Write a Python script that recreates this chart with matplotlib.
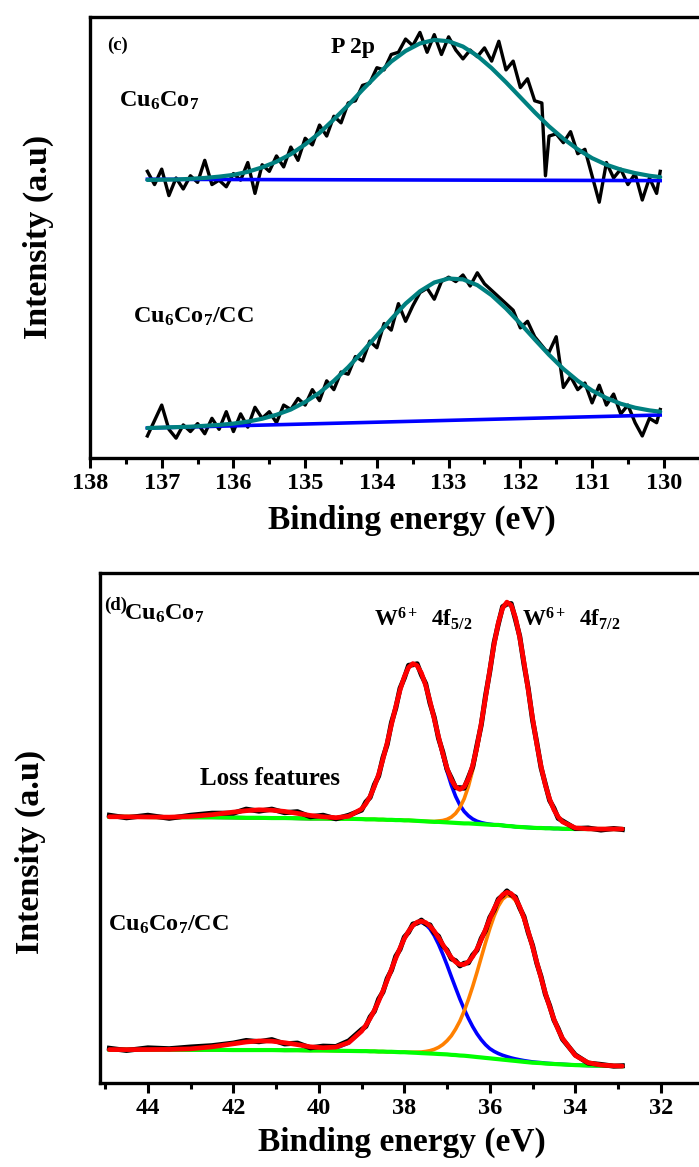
import matplotlib
matplotlib.use("Agg")
import matplotlib.pyplot as plt
from matplotlib.ticker import MultipleLocator
import numpy as np

plt.rcParams['font.family'] = ['Liberation Serif', 'DejaVu Serif']
plt.rcParams['font.weight'] = 'bold'
plt.rcParams['mathtext.fontset'] = 'custom'
plt.rcParams['mathtext.rm'] = 'Liberation Serif:bold'
plt.rcParams['mathtext.it'] = 'Liberation Serif:bold'
plt.rcParams['mathtext.bf'] = 'Liberation Serif:bold'

# ---------------- Panel (c): P 2p ----------------
be_p_data = [137.2, 137.1, 137.0, 136.9, 136.8, 136.7, 136.6, 136.5, 136.4, 136.3,
             136.2, 136.1, 136.0, 135.9, 135.8, 135.7, 135.6, 135.5, 135.4, 135.3,
             135.2, 135.1, 135.0, 134.9, 134.8, 134.7, 134.6, 134.5, 134.4, 134.3,
             134.2, 134.1, 134.0, 133.9, 133.8, 133.7, 133.6, 133.5, 133.4, 133.3,
             133.2, 133.1, 133.0, 132.9, 132.8, 132.7, 132.6, 132.5, 132.4, 132.3,
             132.2, 132.1, 132.0, 131.9, 131.8, 131.7, 131.65, 131.6, 131.5, 131.4,
             131.3, 131.2, 131.1, 131.0, 130.9, 130.8, 130.7, 130.6, 130.5, 130.4,
             130.3, 130.2, 130.1, 130.05]
p2p_cu6co7 = [65.0, 62.0, 65.5, 59.5, 63.5, 61.0, 64.0, 62.5, 67.5, 62.0,
              63.0, 61.5, 64.5, 63.0, 67.0, 60.0, 66.5, 65.0, 68.5, 66.0,
              70.5, 67.5, 72.5, 71.0, 75.5, 73.0, 77.5, 76.0, 80.5, 81.0,
              84.5, 85.0, 88.5, 88.0, 91.5, 92.0, 95.0, 93.5, 96.5, 92.0,
              96.0, 91.5, 95.5, 92.5, 90.5, 92.5, 91.0, 93.0, 90.0, 94.5,
              88.0, 90.0, 84.0, 86.0, 81.0, 80.5, 64.0, 73.0, 73.5, 71.5,
              74.0, 69.0, 70.0, 64.0, 58.0, 67.0, 63.5, 65.5, 62.0, 64.5,
              58.5, 63.5, 60.0, 65.0]
p2p_cu6co7_cc = [5.0, 8.5, 12.0, 6.5, 4.5, 7.5, 6.0, 7.8, 5.5, 9.0,
                 6.5, 10.5, 6.0, 10.0, 7.0, 11.5, 9.0, 10.5, 8.0, 12.0,
                 11.0, 13.5, 12.0, 15.5, 13.0, 17.5, 15.5, 19.5, 19.0, 23.0,
                 22.0, 26.5, 25.0, 30.5, 29.0, 35.0, 31.0, 34.5, 37.5, 38.5,
                 36.0, 40.0, 41.0, 40.0, 41.5, 39.0, 42.0, 39.5, 38.0, 36.5,
                 35.0, 33.5, 29.5, 31.0, 27.5, 25.5, 24.5, 24.0, 27.5, 16.0,
                 18.5, 15.5, 17.0, 12.5, 16.5, 12.0, 14.5, 10.0, 12.0, 8.0,
                 5.0, 9.0, 8.0, 11.0]

be_p_fit = [137.2, 137.0, 136.8, 136.6, 136.4, 136.2, 136.0, 135.8, 135.6, 135.4,
            135.2, 135.0, 134.8, 134.6, 134.4, 134.2, 134.0, 133.8, 133.6, 133.4,
            133.2, 133.0, 132.8, 132.6, 132.4, 132.2, 132.0, 131.8, 131.6, 131.4,
            131.2, 131.0, 130.8, 130.6, 130.4, 130.2, 130.05]
fit_cu6co7 = [63.05, 63.1, 63.15, 63.3, 63.5, 63.8, 64.2, 64.9, 65.9, 67.2,
              68.9, 71.1, 73.7, 76.8, 80.0, 83.5, 86.8, 89.9, 92.3, 94.0,
              94.8, 94.5, 93.3, 91.2, 88.4, 85.2, 81.8, 78.4, 75.2, 72.4,
              70.0, 68.0, 66.5, 65.4, 64.6, 64.0, 63.7]
fit_cu6co7_cc = [6.8, 6.9, 7.0, 7.1, 7.3, 7.5, 7.8, 8.25, 8.9, 9.8,
                 11.0, 12.7, 14.8, 17.5, 20.6, 24.1, 27.8, 31.5, 35.0, 37.8,
                 39.8, 40.7, 40.5, 39.2, 36.9, 33.9, 30.5, 26.9, 23.4, 20.2,
                 17.5, 15.3, 13.6, 12.3, 11.4, 10.8, 10.5]

be_p_base = [137.2, 130.05]
base_cu6co7 = [63.2, 62.9]
base_cu6co7_cc = [6.8, 9.75]

# ---------------- Panel (d): W 4f ----------------
be_w = [44.9, 44.5, 44.0, 43.5, 43.0, 42.5, 42.0, 41.7, 41.4, 41.1,
        40.8, 40.5, 40.2, 39.9, 39.6, 39.3, 39.0, 38.9, 38.8, 38.7,
        38.6, 38.5, 38.4, 38.3, 38.2, 38.1, 38.0, 37.9, 37.8, 37.7,
        37.6, 37.5, 37.4, 37.3, 37.2, 37.1, 37.0, 36.9, 36.8, 36.7,
        36.6, 36.5, 36.4, 36.3, 36.2, 36.1, 36.0, 35.9, 35.8, 35.7,
        35.6, 35.5, 35.4, 35.3, 35.2, 35.1, 35.0, 34.9, 34.8, 34.7,
        34.6, 34.5, 34.4, 34.3, 34.0, 33.7, 33.4, 33.1, 32.9]

# Cu6Co7 (upper)
bg_u = [52.2, 52.2, 52.15, 52.1, 52.1, 52.1, 52.05, 52.0, 52.0, 51.95,
        51.95, 51.9, 51.85, 51.85, 51.8, 51.8, 51.75, 51.7, 51.7, 51.7,
        51.65, 51.65, 51.6, 51.6, 51.55, 51.55, 51.5, 51.5, 51.45, 51.4,
        51.35, 51.3, 51.25, 51.2, 51.2, 51.15, 51.1, 51.05, 51.0, 50.95,
        50.9, 50.9, 50.85, 50.8, 50.75, 50.7, 50.65, 50.6, 50.6, 50.5,
        50.4, 50.35, 50.25, 50.2, 50.15, 50.1, 50.05, 50.0, 50.0, 49.95,
        49.95, 49.9, 49.9, 49.85, 49.8, 49.8, 49.8, 49.8, 49.8]
w52_u = [0, 0, 0, 0, 0, 0, 0, 0, 0, 0,
         0, 0, 0, 0.01, 0.06, 0.43, 1.96, 3.03, 4.50, 6.44,
         8.89, 11.82, 15.13, 18.69, 22.24, 25.50, 28.16, 30.0, 30.79, 30.44,
         29.02, 26.65, 23.59, 20.12, 16.54, 13.10, 10.0, 7.36, 5.21, 3.56,
         2.35, 1.49, 0.91, 0.53, 0.31, 0.17, 0.09, 0.04, 0.02, 0.01,
         0, 0, 0, 0, 0, 0, 0, 0, 0, 0,
         0, 0, 0, 0, 0, 0, 0, 0, 0]
w72_u = [0, 0, 0, 0, 0, 0, 0, 0, 0, 0,
         0, 0, 0, 0, 0, 0, 0, 0, 0, 0,
         0, 0, 0, 0, 0, 0, 0, 0, 0, 0,
         0.01, 0.02, 0.03, 0.08, 0.17, 0.32, 0.60, 1.08, 1.86, 3.06,
         4.82, 7.27, 10.52, 14.59, 19.41, 24.73, 30.19, 35.34, 39.64, 42.61,
         43.89, 43.34, 41.01, 37.19, 32.31, 26.93, 21.50, 16.44, 12.06, 8.48,
         5.71, 3.69, 2.28, 1.36, 0.22, 0.02, 0, 0, 0]
loss_u = [0, 0, 0.01, 0.03, 0.17, 0.51, 1.07, 1.39, 1.57, 1.54,
          1.30, 0.96, 0.61, 0.34, 0.17, 0.07, 0.02, 0.01, 0, 0,
          0, 0, 0, 0, 0, 0, 0, 0, 0, 0,
          0, 0, 0, 0, 0, 0, 0, 0, 0, 0,
          0, 0, 0, 0, 0, 0, 0, 0, 0, 0,
          0, 0, 0, 0, 0, 0, 0, 0, 0, 0,
          0, 0, 0, 0, 0, 0, 0, 0, 0]
raw_u = [52.5, 52.0, 52.5, 51.9, 52.5, 52.9, 52.9, 53.7, 53.3, 53.7,
         53.0, 53.2, 52.2, 52.5, 51.8, 52.5, 53.5, 55.1, 56.0, 58.5,
         60.2, 63.8, 66.4, 70.7, 73.5, 77.4, 79.4, 81.9, 82.0, 82.2,
         80.0, 78.3, 74.5, 71.7, 67.6, 64.9, 61.5, 59.8, 57.9, 57.9,
         57.8, 59.9, 62.0, 66.2, 70.2, 75.9, 80.7, 86.3, 90.0, 93.4,
         93.9, 94.0, 90.9, 87.6, 82.1, 77.3, 71.2, 66.7, 61.8, 58.6,
         55.4, 53.9, 51.9, 51.4, 49.9, 50.0, 49.6, 49.9, 49.7]

# Cu6Co7/CC (lower)
bg_l = [6.55, 6.55, 6.55, 6.55, 6.51, 6.51, 6.46, 6.46, 6.46, 6.46,
        6.42, 6.42, 6.38, 6.38, 6.33, 6.29, 6.25, 6.25, 6.21, 6.21,
        6.16, 6.16, 6.12, 6.12, 6.08, 6.04, 6.04, 5.99, 5.95, 5.91,
        5.86, 5.82, 5.78, 5.74, 5.69, 5.65, 5.61, 5.52, 5.48, 5.39,
        5.35, 5.27, 5.18, 5.09, 5.01, 4.92, 4.84, 4.75, 4.67, 4.58,
        4.50, 4.41, 4.33, 4.24, 4.15, 4.07, 3.98, 3.94, 3.90, 3.81,
        3.77, 3.73, 3.68, 3.64, 3.51, 3.43, 3.38, 3.34, 3.30]
w52_l = [0, 0, 0, 0, 0, 0, 0, 0, 0, 0,
         0, 0.01, 0.03, 0.15, 0.52, 1.56, 3.88, 5.05, 6.45, 8.06,
         9.89, 11.90, 14.03, 16.21, 18.37, 20.41, 22.23, 23.73, 24.84, 25.49,
         25.64, 25.28, 24.44, 23.17, 21.54, 19.61, 17.52, 15.34, 13.17, 11.08,
         9.14, 7.40, 5.87, 4.56, 3.47, 2.59, 1.90, 1.45, 1.11, 0.86,
         0.67, 0.51, 0.39, 0.31, 0.24, 0.19, 0.15, 0.11, 0.09, 0.07,
         0.05, 0.04, 0.03, 0.03, 0.01, 0, 0, 0, 0]
w72_l = [0, 0, 0, 0, 0, 0, 0, 0, 0, 0,
         0, 0, 0, 0, 0, 0, 0, 0, 0, 0,
         0, 0, 0, 0, 0, 0, 0.03, 0.04, 0.08, 0.14,
         0.22, 0.36, 0.56, 0.86, 1.29, 1.88, 2.68, 3.74, 5.09, 6.75,
         8.76, 11.11, 13.75, 16.61, 19.61, 22.60, 25.44, 27.96, 30.01, 31.47,
         32.22, 32.22, 31.47, 30.01, 27.96, 25.44, 22.60, 19.61, 16.61, 13.75,
         11.11, 8.76, 6.75, 5.09, 1.88, 0.56, 0.14, 0.03, 0.01]
loss_l = [0, 0, 0.01, 0.04, 0.19, 0.58, 1.22, 1.58, 1.79, 1.74,
          1.48, 1.09, 0.69, 0.38, 0.19, 0.08, 0.03, 0.02, 0, 0,
          0, 0, 0, 0, 0, 0, 0, 0, 0, 0,
          0, 0, 0, 0, 0, 0, 0, 0, 0, 0,
          0, 0, 0, 0, 0, 0, 0, 0, 0, 0,
          0, 0, 0, 0, 0, 0, 0, 0, 0, 0,
          0, 0, 0, 0, 0, 0, 0, 0, 0]
raw_l = [6.81, 6.38, 6.89, 6.72, 7.06, 7.32, 7.83, 8.34, 8.09, 8.51,
         7.66, 7.83, 6.89, 7.23, 7.15, 8.26, 10.48, 11.08, 12.96, 14.07,
         16.47, 17.83, 20.49, 22.11, 24.85, 26.21, 28.61, 29.55, 31.17, 31.34,
         31.94, 31.17, 31.0, 29.46, 28.78, 26.90, 26.04, 24.33, 23.99, 22.96,
         23.48, 23.56, 25.10, 26.04, 28.35, 29.89, 32.45, 33.91, 36.05, 36.73,
         37.67, 36.90, 36.47, 34.33, 32.62, 29.46, 26.98, 23.48, 20.83, 17.41,
         15.18, 12.36, 10.65, 8.60, 5.52, 3.90, 3.64, 3.30, 3.38]

# ---------------- Figure ----------------
W, H = 699, 1167
fig = plt.figure(figsize=(W / 100, H / 100), dpi=100)

def px_axes(left, top, right, bottom):
    return fig.add_axes([left / W, 1 - bottom / H, (right - left) / W, (bottom - top) / H])

def style(ax, major, minor):
    for s in ax.spines.values():
        s.set_linewidth(2.4)
    ax.xaxis.set_major_locator(MultipleLocator(major))
    ax.xaxis.set_minor_locator(MultipleLocator(minor))
    ax.tick_params(axis='x', which='major', direction='out', length=7, width=2.2,
                   labelsize=17.5, pad=4)
    ax.tick_params(axis='x', which='minor', direction='out', length=4, width=2.2)
    ax.tick_params(axis='y', which='both', left=False, labelleft=False)
    for lab in ax.get_xticklabels():
        lab.set_fontweight('bold')
    ax.set_xlabel('Binding energy (eV)', fontsize=24, fontweight='bold')
    ax.set_ylabel('Intensity (a.u)', fontsize=24.5, fontweight='bold')

# Panel (c)
axc = px_axes(90, 17, 714, 458)
axc.plot(be_p_data, p2p_cu6co7, color='black', lw=2.4, zorder=2)
axc.plot(be_p_data, p2p_cu6co7_cc, color='black', lw=2.4, zorder=2)
axc.plot(be_p_base, base_cu6co7, color='#0000FF', lw=2.6, zorder=3)
axc.plot(be_p_base, base_cu6co7_cc, color='#0000FF', lw=2.6, zorder=3)
axc.plot(be_p_fit, fit_cu6co7, color='#008080', lw=3.0, zorder=4, solid_capstyle='round')
axc.plot(be_p_fit, fit_cu6co7_cc, color='#008080', lw=3.0, zorder=4, solid_capstyle='round')
axc.set_xlim(138, 129.3)
axc.set_ylim(0, 100)
style(axc, 1, 0.5)
# label centres placed in pixel terms: x-label at (412, 520), y-label at (38, 237)
axc.xaxis.set_label_coords((412 - 90) / 624, -(520 - 458) / 441)
axc.yaxis.set_label_coords(-(90 - 38) / 624, (458 - 237) / 441)
axc.xaxis.label.set_va('center')
axc.yaxis.label.set_va('center')
axc.text(137.76, 93.6, '(c)', fontsize=13.5, fontweight='bold', ha='left', va='center')
axc.text(134.33, 93.0, 'P 2p', fontsize=17, fontweight='bold', ha='center', va='center')
axc.text(137.6, 81, r'Cu$_{6}$Co$_{7}$', fontsize=17.5, ha='left', va='center')
axc.text(137.4, 32, r'Cu$_{6}$Co$_{7}$/CC', fontsize=17.5, ha='left', va='center')

# Panel (d)
axd = px_axes(100, 573, 730, 1083)
bg_u_a = np.array(bg_u)
bg_l_a = np.array(bg_l)
env_u = bg_u_a + np.array(w52_u) + np.array(w72_u) + np.array(loss_u)
env_l = bg_l_a + np.array(w52_l) + np.array(w72_l) + np.array(loss_l)
axd.plot(be_w, bg_u_a + np.array(w52_u), color='#0000FF', lw=2.6, zorder=2)
axd.plot(be_w, bg_u_a + np.array(w72_u), color='#FF8000', lw=2.6, zorder=2)
axd.plot(be_w, bg_l_a + np.array(w52_l), color='#0000FF', lw=2.6, zorder=2)
axd.plot(be_w, bg_l_a + np.array(w72_l), color='#FF8000', lw=2.6, zorder=2)
axd.plot(be_w, bg_u, color='#00FF00', lw=3.0, zorder=3)
axd.plot(be_w, bg_l, color='#00FF00', lw=3.0, zorder=3)
axd.plot(be_w, raw_u, color='black', lw=3.6, zorder=4)
axd.plot(be_w, raw_l, color='black', lw=3.6, zorder=4)
axd.plot(be_w, env_u, color='#FF0000', lw=3.4, zorder=5, solid_capstyle='round')
axd.plot(be_w, env_l, color='#FF0000', lw=3.4, zorder=5, solid_capstyle='round')
axd.set_xlim(45.12, 30.38)
axd.set_ylim(0, 100)
style(axd, 2, 1)
axd.xaxis.set_label_coords((402 - 100) / 630, -(1142 - 1083) / 510)
axd.yaxis.set_label_coords(-(100 - 30) / 630, (1083 - 852) / 510)
axd.xaxis.label.set_va('center')
axd.yaxis.label.set_va('center')
axd.text(45.02, 93.7, '(d)', fontsize=13.5, fontweight='bold', ha='left', va='center')
axd.text(44.55, 92.0, r'Cu$_{6}$Co$_{7}$', fontsize=17.5, ha='left', va='center')
axd.text(38.7, 91.0, r'W$^{6+}$  4f$_{5/2}$', fontsize=16.5, ha='left', va='center')
axd.text(35.25, 91.0, r'W$^{6+}$  4f$_{7/2}$', fontsize=16.5, ha='left', va='center')
axd.text(41.15, 59.8, 'Loss features', fontsize=18, ha='center', va='center')
axd.text(44.93, 31.0, r'Cu$_{6}$Co$_{7}$/CC', fontsize=17.5, ha='left', va='center')

fig.savefig('out.png', dpi=100)
